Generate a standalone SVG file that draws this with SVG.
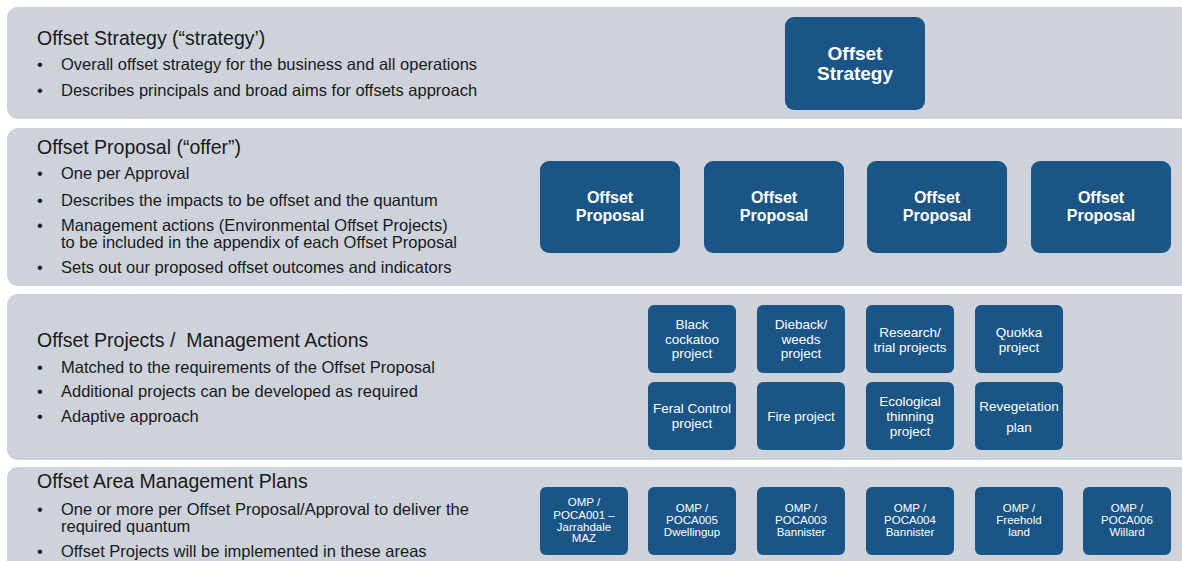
<svg xmlns="http://www.w3.org/2000/svg" width="1182" height="561" viewBox="0 0 1182 561">
<style>
.band{fill:#cdd2db}
.box{fill:#1a5586}
.title{font-family:"Liberation Sans",Arial,sans-serif;font-size:19.5px;fill:#1a1a1a;white-space:pre}
.bul{font-family:"Liberation Sans",Arial,sans-serif;font-size:16.5px;fill:#1a1a1a}
.big{font-family:"Liberation Sans",Arial,sans-serif;font-size:16px;font-weight:bold;fill:#fff;text-anchor:middle}
.big.xl{font-size:19px}
.mid{font-family:"Liberation Sans",Arial,sans-serif;font-size:13.5px;fill:#fff;text-anchor:middle}
.sm{font-family:"Liberation Sans",Arial,sans-serif;font-size:11.5px;fill:#fff;text-anchor:middle}
</style>
<rect width="1182" height="561" fill="#ffffff"/>
<g id="bands">
<rect class="band" x="7" y="7" width="1185" height="112" rx="11"/>
<rect class="band" x="7" y="128" width="1185" height="158" rx="11"/>
<rect class="band" x="7" y="294" width="1185" height="166" rx="11"/>
<rect class="band" x="7" y="467" width="1185" height="110" rx="11"/>
</g>
<g id="text-strategy">
<text class="title" x="37" y="45">Offset Strategy (“strategy’)</text>
<text class="bul" x="37" y="70">•</text><text class="bul" x="61" y="70">Overall offset strategy for the business and all operations</text>
<text class="bul" x="37" y="96">•</text><text class="bul" x="61" y="96">Describes principals and broad aims for offsets approach</text>
</g>
<g id="text-proposal">
<text class="title" x="37" y="154">Offset Proposal (“offer”)</text>
<text class="bul" x="37" y="179">•</text><text class="bul" x="61" y="179">One per Approval</text>
<text class="bul" x="37" y="206">•</text><text class="bul" x="61" y="206">Describes the impacts to be offset and the quantum</text>
<text class="bul" x="37" y="231">•</text><text class="bul" x="61" y="231">Management actions (Environmental Offset Projects)</text>
<text class="bul" x="61" y="248">to be included in the appendix of each Offset Proposal</text>
<text class="bul" x="37" y="273">•</text><text class="bul" x="61" y="273">Sets out our proposed offset outcomes and indicators</text>
</g>
<g id="text-projects">
<text class="title" x="37" y="347">Offset Projects /  Management Actions</text>
<text class="bul" x="37" y="373">•</text><text class="bul" x="61" y="373">Matched to the requirements of the Offset Proposal</text>
<text class="bul" x="37" y="397">•</text><text class="bul" x="61" y="397">Additional projects can be developed as required</text>
<text class="bul" x="37" y="422">•</text><text class="bul" x="61" y="422">Adaptive approach</text>
</g>
<g id="text-omp">
<text class="title" x="37" y="488">Offset Area Management Plans</text>
<text class="bul" x="37" y="515">•</text><text class="bul" x="61" y="515">One or more per Offset Proposal/Approval to deliver the</text>
<text class="bul" x="61" y="532">required quantum</text>
<text class="bul" x="37" y="557">•</text><text class="bul" x="61" y="557">Offset Projects will be implemented in these areas</text>
</g>
<g id="node-strategy"><rect class="box" x="785" y="17" width="140" height="93" rx="9"/><text class="big xl" x="855" y="60">Offset</text><text class="big xl" x="855" y="80">Strategy</text></g>
<g id="node-proposal-1"><rect class="box" x="540" y="161" width="140" height="92" rx="9"/><text class="big" x="610" y="203">Offset</text><text class="big" x="610" y="221">Proposal</text></g>
<g id="node-proposal-2"><rect class="box" x="704" y="161" width="140" height="92" rx="9"/><text class="big" x="774" y="203">Offset</text><text class="big" x="774" y="221">Proposal</text></g>
<g id="node-proposal-3"><rect class="box" x="867" y="161" width="140" height="92" rx="9"/><text class="big" x="937" y="203">Offset</text><text class="big" x="937" y="221">Proposal</text></g>
<g id="node-proposal-4"><rect class="box" x="1031" y="161" width="140" height="92" rx="9"/><text class="big" x="1101" y="203">Offset</text><text class="big" x="1101" y="221">Proposal</text></g>
<g id="node-black-cockatoo"><rect class="box" x="648" y="305" width="88" height="68" rx="6"/><text class="mid" x="692" y="329">Black</text><text class="mid" x="692" y="344">cockatoo</text><text class="mid" x="692" y="358">project</text></g>
<g id="node-dieback"><rect class="box" x="757" y="305" width="88" height="68" rx="6"/><text class="mid" x="801" y="329">Dieback/</text><text class="mid" x="801" y="344">weeds</text><text class="mid" x="801" y="358">project</text></g>
<g id="node-research"><rect class="box" x="866" y="305" width="88" height="68" rx="6"/><text class="mid" x="910" y="337">Research/</text><text class="mid" x="910" y="352">trial projects</text></g>
<g id="node-quokka"><rect class="box" x="975" y="305" width="88" height="68" rx="6"/><text class="mid" x="1019" y="337">Quokka</text><text class="mid" x="1019" y="352">project</text></g>
<g id="node-feral"><rect class="box" x="648" y="382" width="88" height="68" rx="6"/><text class="mid" x="692" y="413">Feral Control</text><text class="mid" x="692" y="428">project</text></g>
<g id="node-fire"><rect class="box" x="757" y="382" width="88" height="68" rx="6"/><text class="mid" x="801" y="421">Fire project</text></g>
<g id="node-ecological"><rect class="box" x="866" y="382" width="88" height="68" rx="6"/><text class="mid" x="910" y="406">Ecological</text><text class="mid" x="910" y="421">thinning</text><text class="mid" x="910" y="436">project</text></g>
<g id="node-revegetation"><rect class="box" x="975" y="382" width="88" height="68" rx="6"/><text class="mid" x="1019" y="411">Revegetation</text><text class="mid" x="1019" y="432">plan</text></g>
<g id="node-omp-1"><rect class="box" x="540" y="487" width="88" height="68" rx="6"/><text class="sm" x="584" y="506">OMP /</text><text class="sm" x="584" y="519">POCA001 –</text><text class="sm" x="584" y="531">Jarrahdale</text><text class="sm" x="584" y="542">MAZ</text></g>
<g id="node-omp-2"><rect class="box" x="648" y="487" width="88" height="68" rx="6"/><text class="sm" x="692" y="512">OMP /</text><text class="sm" x="692" y="524">POCA005</text><text class="sm" x="692" y="536">Dwellingup</text></g>
<g id="node-omp-3"><rect class="box" x="757" y="487" width="88" height="68" rx="6"/><text class="sm" x="801" y="512">OMP /</text><text class="sm" x="801" y="524">POCA003</text><text class="sm" x="801" y="536">Bannister</text></g>
<g id="node-omp-4"><rect class="box" x="866" y="487" width="88" height="68" rx="6"/><text class="sm" x="910" y="512">OMP /</text><text class="sm" x="910" y="524">POCA004</text><text class="sm" x="910" y="536">Bannister</text></g>
<g id="node-omp-5"><rect class="box" x="975" y="487" width="88" height="68" rx="6"/><text class="sm" x="1019" y="512">OMP /</text><text class="sm" x="1019" y="524">Freehold</text><text class="sm" x="1019" y="536">land</text></g>
<g id="node-omp-6"><rect class="box" x="1083" y="487" width="88" height="68" rx="6"/><text class="sm" x="1127" y="512">OMP /</text><text class="sm" x="1127" y="524">POCA006</text><text class="sm" x="1127" y="536">Willard</text></g>
<g id="connectors"></g>
</svg>
